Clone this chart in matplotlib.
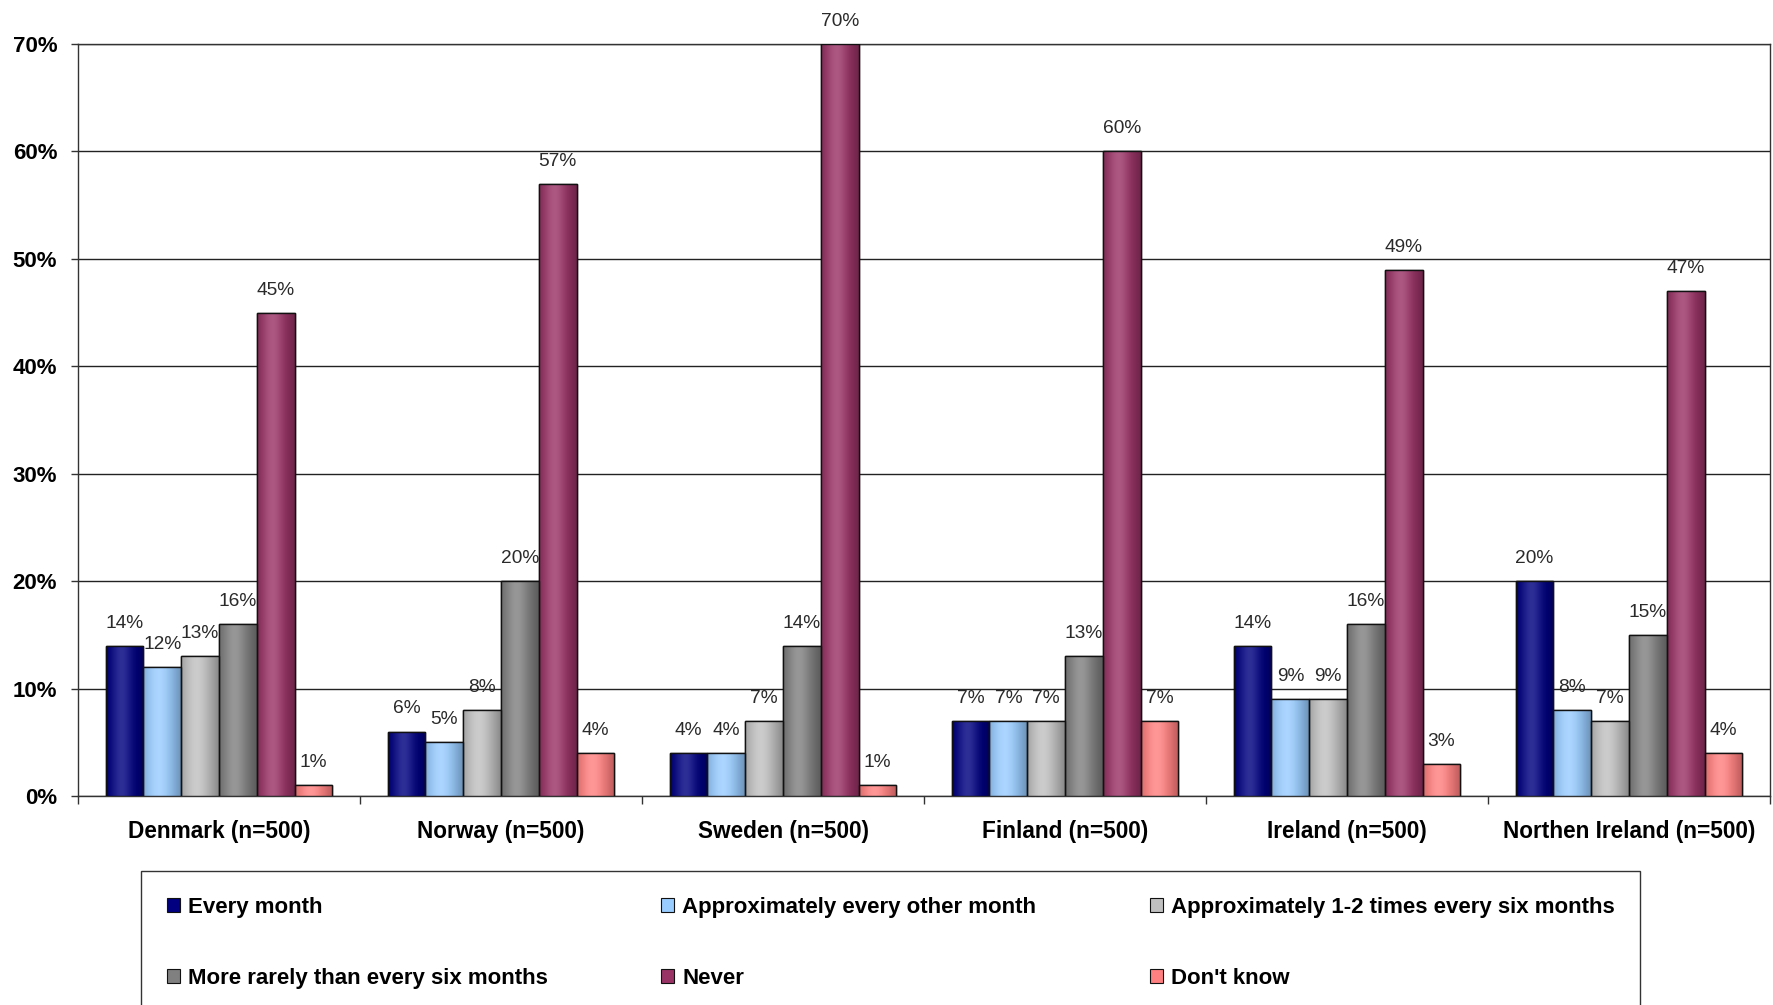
import numpy as np
import matplotlib
matplotlib.use("Agg")
import matplotlib.pyplot as plt
from matplotlib.patches import Patch
from matplotlib.colors import to_rgb

countries = ["Denmark (n=500)", "Norway (n=500)", "Sweden (n=500)",
             "Finland (n=500)", "Ireland (n=500)", "Northen Ireland (n=500)"]
series_names = ["Every month", "Approximately every other month",
                "Approximately 1-2 times every six months",
                "More rarely than every six months", "Never", "Don't know"]
every_month = [14, 6, 4, 7, 14, 20]
every_other_month = [12, 5, 4, 7, 9, 8]
one_two_six_months = [13, 8, 7, 7, 9, 7]
more_rarely = [16, 20, 14, 13, 16, 15]
never = [45, 57, 70, 60, 49, 47]
dont_know = [1, 4, 1, 7, 3, 4]
series_values = [every_month, every_other_month, one_two_six_months,
                 more_rarely, never, dont_know]
colors = ["#000080", "#99CCFF", "#C0C0C0", "#808080", "#993366", "#FF8080"]
yticks = [0, 10, 20, 30, 40, 50, 60, 70]

plt.rcParams['font.family'] = ['Liberation Sans', 'DejaVu Sans']

fig = plt.figure(figsize=(17.73, 10.05), dpi=100)
ax = fig.add_axes([78/1773, 1-796/1005, 1692/1773, 752/1005])

n = len(series_values)
x = np.arange(len(countries))
bw = 0.134
offsets = (np.arange(n) - (n-1)/2) * bw


def grad_image(color, npts=64):
    base = np.array(to_rgb(color))
    t = np.linspace(0, 1, npts)
    s = np.sin(np.pi * (0.15 + 0.85 * t))
    shade = 0.72 + 0.28 * s
    light = 0.18 * s ** 4
    img = base[None, :] * shade[:, None] + light[:, None] * (1 - base[None, :])
    return np.clip(img[None, :, :], 0, 1)


for i, (vals, col) in enumerate(zip(series_values, colors)):
    bars = ax.bar(x + offsets[i], vals, bw, color=col, edgecolor="#111111",
                  linewidth=1.0, zorder=3)
    img = grad_image(col)
    for b, v in zip(bars, vals):
        im = ax.imshow(img, extent=(b.get_x(), b.get_x() + b.get_width(), 0, b.get_height()),
                       aspect='auto', zorder=3.5, interpolation='bilinear')
        im.set_clip_path(b)
        edge = plt.Rectangle((b.get_x(), 0), b.get_width(), b.get_height(),
                             fill=False, edgecolor="#111111", linewidth=1.0, zorder=4)
        ax.add_patch(edge)
        ax.annotate(f"{v}%", (b.get_x() + b.get_width()/2, v), xytext=(0, 13),
                    textcoords="offset points", ha="center", va="baseline",
                    fontsize=13.8, color="#2a2a2a", annotation_clip=False)

ax.set_xlim(-0.5, len(countries) - 0.5)
ax.set_ylim(0, 70)
ax.set_yticks(yticks)
ax.set_yticklabels([f"{t}%" for t in yticks], fontsize=16, fontweight="bold")
ax.yaxis.grid(True, color="#222222", linewidth=1.0, zorder=0)
ax.set_axisbelow(True)
ax.set_xticks(x)
ax.set_xticklabels(countries, fontsize=16.3, fontweight="bold")
ax.set_xticks(np.arange(-0.5, len(countries)), minor=True)
ax.tick_params(axis='x', which='major', length=0, pad=17)
ax.tick_params(axis='x', which='minor', length=6, width=1, color="#333333")
ax.tick_params(axis='y', length=5, width=1, color="#333333", pad=10)
for sp in ax.spines.values():
    sp.set_color("#333333")
    sp.set_linewidth(1.0)

handles = [Patch(facecolor=c, edgecolor="#111111", linewidth=0.8) for c in colors]
order = [0, 3, 1, 4, 2, 5]
leg = fig.legend([handles[k] for k in order], [series_names[k] for k in order],
                 ncol=3, loc="upper left",
                 bbox_to_anchor=(141/1773, 1-871/1005, 1499/1773, 0),
                 mode="expand", borderaxespad=0, handlelength=0.6, handleheight=0.6,
                 handletextpad=0.35, labelspacing=2.25, borderpad=1.15,
                 frameon=True, fancybox=False, edgecolor="#333333", framealpha=1,
                 prop={'weight': 'bold', 'size': 16})
leg.get_frame().set_linewidth(1.0)

fig.savefig("out.png", dpi=100)
